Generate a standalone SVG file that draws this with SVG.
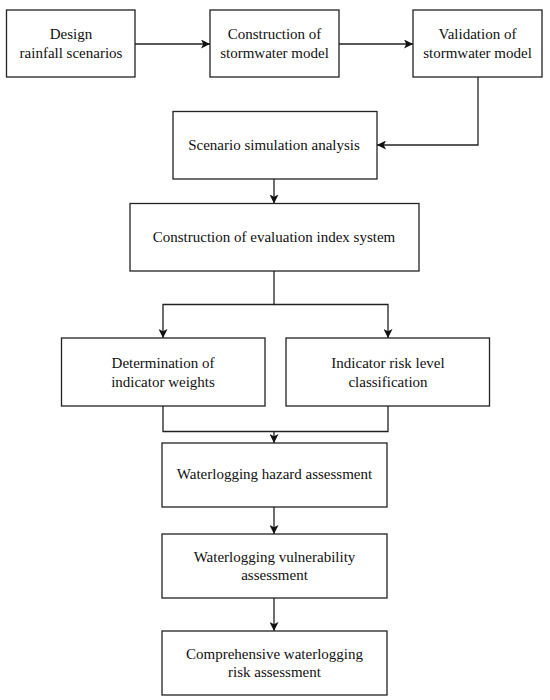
<svg xmlns="http://www.w3.org/2000/svg" width="550" height="700" viewBox="0 0 550 700">
<style>
.box{fill:#fff;stroke:#222;stroke-width:1.3}
.t{font-family:"Liberation Serif","Times New Roman",serif;font-size:15px;fill:#111;text-anchor:middle}
.c{fill:none;stroke:#222;stroke-width:1.3}
</style>
<defs>
<marker id="ah" viewBox="0 0 10 10" refX="10" refY="5" markerWidth="9" markerHeight="9" markerUnits="userSpaceOnUse" orient="auto">
<path d="M0,0 L10,5 L0,10 L2.5,5 Z" fill="#111"/>
</marker>
</defs>
<rect width="550" height="700" fill="#fff"/>
<g id="connectors">
<path class="c" d="M135,44 H210" marker-end="url(#ah)"/>
<path class="c" d="M339,44 H413" marker-end="url(#ah)"/>
<path class="c" d="M478,77 V145 H377" marker-end="url(#ah)"/>
<path class="c" d="M274,179 V203.5" marker-end="url(#ah)"/>
<path class="c" d="M274,271 V304.5 H163 V338" marker-end="url(#ah)"/>
<path class="c" d="M274,304.5 H388 V338" marker-end="url(#ah)"/>
<path class="c" d="M163,406 V431.5 H388 V406"/>
<path class="c" d="M274,431.5 V443" marker-end="url(#ah)"/>
<path class="c" d="M274,507 V534" marker-end="url(#ah)"/>
<path class="c" d="M274,598 V631" marker-end="url(#ah)"/>
</g>
<g id="n1"><rect class="box" x="6.5" y="10" width="128.5" height="67"/><text class="t" x="71" y="39">Design</text><text class="t" x="71" y="58">rainfall scenarios</text></g>
<g id="n2"><rect class="box" x="210" y="10" width="129" height="67"/><text class="t" x="274.5" y="39">Construction of</text><text class="t" x="274.5" y="58">stormwater model</text></g>
<g id="n3"><rect class="box" x="413" y="10" width="129" height="67"/><text class="t" x="477.5" y="39">Validation of</text><text class="t" x="477.5" y="58">stormwater model</text></g>
<g id="n4"><rect class="box" x="173" y="111.5" width="204" height="67.5"/><text class="t" x="274" y="150">Scenario simulation analysis</text></g>
<g id="n5"><rect class="box" x="130" y="203.5" width="289" height="67.5"/><text class="t" x="274" y="242">Construction of evaluation index system</text></g>
<g id="n6"><rect class="box" x="61.5" y="338" width="203.5" height="68"/><text class="t" x="163" y="368">Determination of</text><text class="t" x="163" y="387">indicator weights</text></g>
<g id="n7"><rect class="box" x="286" y="338" width="203.5" height="68"/><text class="t" x="388" y="368">Indicator risk level</text><text class="t" x="388" y="387">classification</text></g>
<g id="n8"><rect class="box" x="162" y="443" width="225" height="64"/><text class="t" x="274.5" y="479">Waterlogging hazard assessment</text></g>
<g id="n9"><rect class="box" x="162" y="534" width="225" height="64"/><text class="t" x="274.5" y="562">Waterlogging vulnerability</text><text class="t" x="274.5" y="580">assessment</text></g>
<g id="n10"><rect class="box" x="162" y="631" width="225" height="64"/><text class="t" x="274.5" y="659">Comprehensive waterlogging</text><text class="t" x="274.5" y="677">risk assessment</text></g>
</svg>
